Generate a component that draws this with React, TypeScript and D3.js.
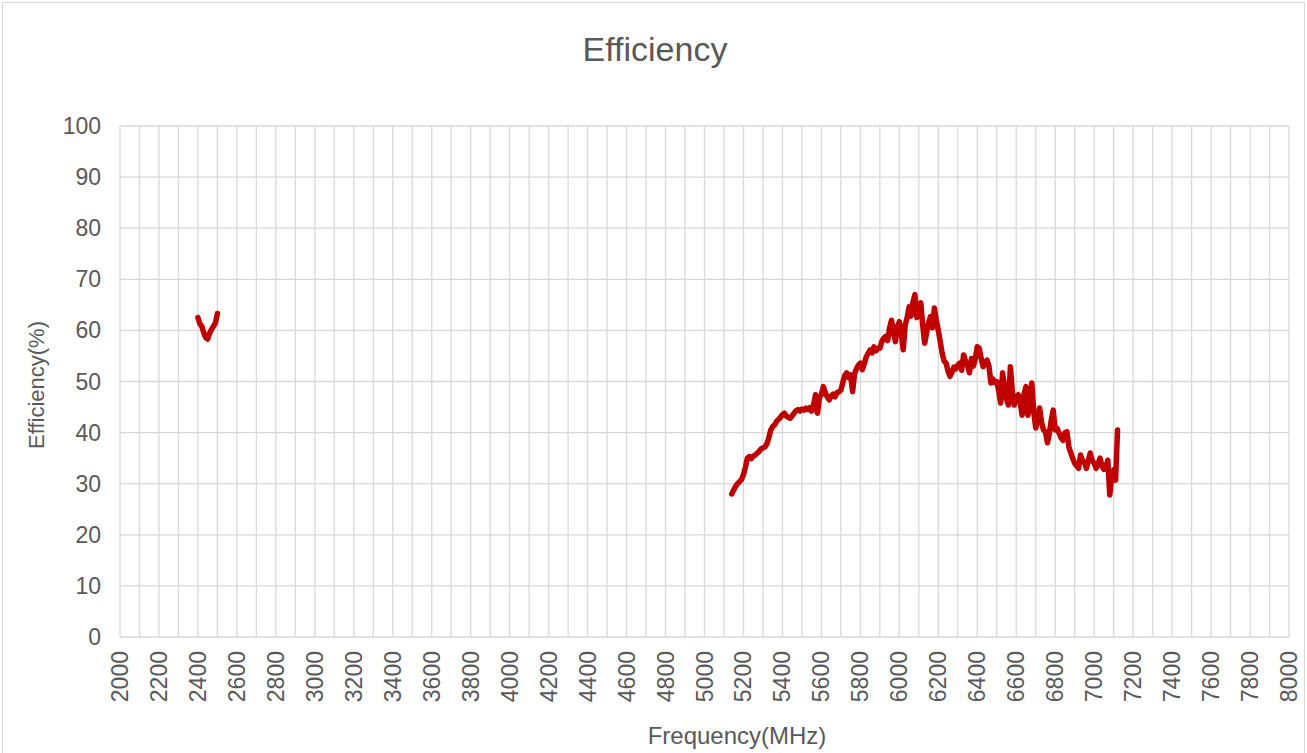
import React, { useEffect, useRef } from "react";
import * as d3 from "d3";

// 2.4 GHz band, 10 MHz steps from 2400
const band24Start = 2400;
const band24Values = [62.5, 61.3, 60.8, 59.5, 58.6, 58.3, 59.5, 60.2, 60.8, 61.5, 63.3];

// 5-7 GHz band, 10 MHz steps from 5140
const band5Start = 5140;
const band5Values = [
  28.0, 28.8, 29.5, 30.0, 30.4, 30.8,
  31.8, 33.2, 35.0, 35.3, 34.9, 35.4, 35.6, 36.0, 36.3, 36.8,
  37.0, 37.2, 37.8, 39.0, 40.5, 41.2, 41.5, 42.2, 42.6, 43.0,
  43.5, 43.8, 43.2, 43.0, 42.8, 43.3, 43.8, 44.3, 44.5, 44.2,
  44.6, 44.4, 44.8, 44.5, 44.9, 44.2, 45.5, 47.4, 43.8, 46.8,
  47.5, 49.0, 47.8, 47.0, 46.4, 47.2, 47.5, 47.0, 47.8, 48.0,
  48.3, 49.8, 51.2, 51.7, 50.8, 51.3, 48.0, 51.5, 52.5, 53.2,
  53.6, 52.3, 53.5, 54.8, 55.5, 56.2, 55.6, 56.8, 56.0, 56.5,
  56.5, 57.8, 58.5, 58.8, 58.0, 60.5, 62.0, 59.5, 57.8, 60.8,
  61.7, 59.5, 56.2, 61.0, 62.5, 64.6, 62.8, 65.5, 67.0, 62.5,
  64.0, 65.4, 61.0, 57.5, 59.5, 61.5, 62.7, 60.5, 64.4, 62.0,
  60.0, 57.8, 55.5, 54.0, 53.6, 52.0, 51.0, 51.8, 52.8, 52.5,
  53.2, 53.6, 52.2, 55.2, 54.0, 53.2, 51.7, 54.5, 53.0, 54.5,
  56.8, 56.5, 54.5, 52.9, 53.5, 54.2, 53.0, 49.7, 50.5, 49.8,
  50.0, 48.2, 45.8, 51.7, 49.0, 46.5, 45.4, 52.9, 48.0, 45.4,
  47.0, 47.4, 46.0, 43.4, 47.5, 49.0, 43.4, 46.0, 49.7, 44.0,
  40.9, 42.5, 44.8, 42.0, 40.5, 40.2, 38.0, 39.8, 42.5, 44.4,
  40.5, 40.8, 39.9, 39.0, 38.5, 40.0, 40.2, 37.2, 36.0, 35.0,
  34.0, 33.5, 33.0, 35.6, 34.5, 34.2, 33.0, 34.5, 36.0, 34.5,
  34.0, 33.0, 33.8, 35.0, 33.5, 32.8, 33.3, 34.6, 27.8, 31.5,
  32.7, 30.7, 40.5,
];
const bandStep = 10;

const xTicks = d3.range(2000, 8001, 200);
const xGrid = d3.range(2000, 8001, 100);
const yTicks = d3.range(0, 101, 10);

const W = 1307;
const H = 753;

export default function App() {
  const ref = useRef<SVGSVGElement>(null);

  useEffect(() => {
    const svg = d3.select(ref.current);
    svg.selectAll("*").remove();

    const x = d3.scaleLinear().domain([2000, 8000]).range([120, 1289]);
    const y = d3.scaleLinear().domain([0, 100]).range([637, 126]);
    const font = "'Liberation Sans', Arial, sans-serif";
    const grey = "#595959";

    svg.append("rect")
      .attr("x", 0).attr("y", 0).attr("width", W).attr("height", H)
      .attr("fill", "#fff");
    svg.append("rect")
      .attr("x", 2.5).attr("y", 2.5).attr("width", W - 5).attr("height", H + 10)
      .attr("fill", "none").attr("stroke", "#d9d9d9");

    // grid
    svg.append("g").selectAll("line").data(yTicks).join("line")
      .attr("x1", x(2000)).attr("x2", x(8000))
      .attr("y1", d => y(d)).attr("y2", d => y(d))
      .attr("stroke", "#d9d9d9").attr("stroke-width", 1.3);
    svg.append("g").selectAll("line").data(xGrid).join("line")
      .attr("x1", d => x(d)).attr("x2", d => x(d))
      .attr("y1", y(0)).attr("y2", y(100))
      .attr("stroke", "#d9d9d9").attr("stroke-width", 1.3);

    // tick labels
    svg.append("g").selectAll("text").data(yTicks).join("text")
      .attr("x", 101).attr("y", d => y(d))
      .attr("text-anchor", "end").attr("dominant-baseline", "central")
      .attr("font-family", font).attr("font-size", 23).attr("fill", grey)
      .text(d => d);
    svg.append("g").selectAll("text").data(xTicks).join("text")
      .attr("transform", d => `translate(${x(d)},651) rotate(-90)`)
      .attr("text-anchor", "end").attr("dominant-baseline", "central")
      .attr("font-family", font).attr("font-size", 23).attr("fill", grey)
      .text(d => d);

    // titles
    svg.append("text").attr("x", 655).attr("y", 61)
      .attr("text-anchor", "middle").attr("font-family", font)
      .attr("font-size", 34).attr("fill", grey).text("Efficiency");
    svg.append("text").attr("x", 737).attr("y", 744)
      .attr("text-anchor", "middle").attr("font-family", font)
      .attr("font-size", 24).attr("fill", grey).text("Frequency(MHz)");
    svg.append("text").attr("transform", "translate(44,385) rotate(-90)")
      .attr("text-anchor", "middle").attr("font-family", font)
      .attr("font-size", 22).attr("fill", grey).text("Efficiency(%)");

    // series
    const line = d3.line<[number, number]>()
      .x(d => x(d[0])).y(d => y(d[1]));
    const segs: [number, number][][] = [
      band24Values.map((v, i) => [band24Start + i * bandStep, v]),
      band5Values.map((v, i) => [band5Start + i * bandStep, v]),
    ];
    svg.append("g").selectAll("path").data(segs).join("path")
      .attr("d", d => line(d))
      .attr("fill", "none").attr("stroke", "#c00000")
      .attr("stroke-width", 5.5).attr("stroke-linejoin", "round")
      .attr("stroke-linecap", "round");
  }, []);

  return (
    <svg ref={ref} width={W} height={H}
      style={{ position: "absolute", left: 0, top: 0 }} />
  );
}
